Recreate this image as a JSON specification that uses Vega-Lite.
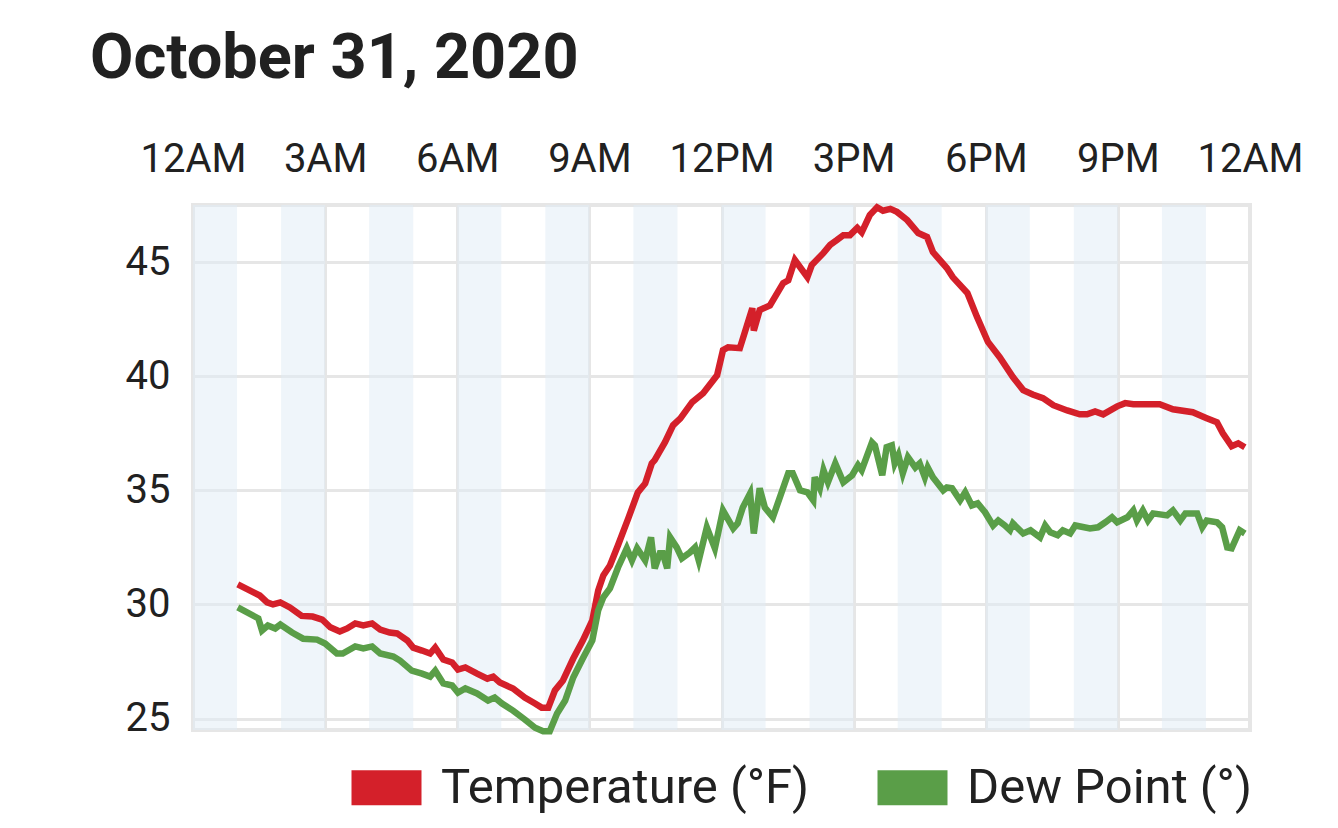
{
  "$schema": "https://vega.github.io/schema/vega-lite/v6.json",
  "width": 1057,
  "height": 525,
  "autosize": {"type": "none"},
  "padding": {"left": 193, "top": 205, "right": 88, "bottom": 98},
  "title": {
    "text": "October 31, 2020",
    "anchor": "start",
    "frame": "group",
    "dx": -103,
    "offset": 48,
    "font": "Roboto",
    "fontSize": 63,
    "fontWeight": "bold",
    "color": "#212121"
  },
  "datasets": {
    "bands": [
      {"start": "2020-10-31 00:00", "end": "2020-10-31 01:00"},
      {"start": "2020-10-31 02:00", "end": "2020-10-31 03:00"},
      {"start": "2020-10-31 04:00", "end": "2020-10-31 05:00"},
      {"start": "2020-10-31 06:00", "end": "2020-10-31 07:00"},
      {"start": "2020-10-31 08:00", "end": "2020-10-31 09:00"},
      {"start": "2020-10-31 10:00", "end": "2020-10-31 11:00"},
      {"start": "2020-10-31 12:00", "end": "2020-10-31 13:00"},
      {"start": "2020-10-31 14:00", "end": "2020-10-31 15:00"},
      {"start": "2020-10-31 16:00", "end": "2020-10-31 17:00"},
      {"start": "2020-10-31 18:00", "end": "2020-10-31 19:00"},
      {"start": "2020-10-31 20:00", "end": "2020-10-31 21:00"},
      {"start": "2020-10-31 22:00", "end": "2020-10-31 23:00"}
    ],
    "temperature": [
      {"time": "2020-10-31 01:01", "value": 30.88},
      {"time": "2020-10-31 01:31", "value": 30.39},
      {"time": "2020-10-31 01:41", "value": 30.09},
      {"time": "2020-10-31 01:49", "value": 30.0},
      {"time": "2020-10-31 01:59", "value": 30.09},
      {"time": "2020-10-31 02:12", "value": 29.87},
      {"time": "2020-10-31 02:28", "value": 29.5},
      {"time": "2020-10-31 02:43", "value": 29.47},
      {"time": "2020-10-31 02:56", "value": 29.34},
      {"time": "2020-10-31 03:07", "value": 29.0},
      {"time": "2020-10-31 03:20", "value": 28.82},
      {"time": "2020-10-31 03:30", "value": 28.95},
      {"time": "2020-10-31 03:41", "value": 29.17},
      {"time": "2020-10-31 03:52", "value": 29.08},
      {"time": "2020-10-31 04:04", "value": 29.17},
      {"time": "2020-10-31 04:15", "value": 28.9},
      {"time": "2020-10-31 04:28", "value": 28.77},
      {"time": "2020-10-31 04:38", "value": 28.73},
      {"time": "2020-10-31 04:52", "value": 28.42},
      {"time": "2020-10-31 05:00", "value": 28.11},
      {"time": "2020-10-31 05:12", "value": 27.98},
      {"time": "2020-10-31 05:23", "value": 27.85},
      {"time": "2020-10-31 05:30", "value": 28.11},
      {"time": "2020-10-31 05:41", "value": 27.59},
      {"time": "2020-10-31 05:53", "value": 27.46},
      {"time": "2020-10-31 06:01", "value": 27.15},
      {"time": "2020-10-31 06:11", "value": 27.24},
      {"time": "2020-10-31 06:27", "value": 26.97},
      {"time": "2020-10-31 06:41", "value": 26.75},
      {"time": "2020-10-31 06:49", "value": 26.84},
      {"time": "2020-10-31 06:58", "value": 26.58},
      {"time": "2020-10-31 07:16", "value": 26.32},
      {"time": "2020-10-31 07:32", "value": 25.92},
      {"time": "2020-10-31 07:46", "value": 25.66},
      {"time": "2020-10-31 07:55", "value": 25.48},
      {"time": "2020-10-31 08:04", "value": 25.48},
      {"time": "2020-10-31 08:13", "value": 26.23},
      {"time": "2020-10-31 08:24", "value": 26.67},
      {"time": "2020-10-31 08:38", "value": 27.63},
      {"time": "2020-10-31 08:51", "value": 28.42},
      {"time": "2020-10-31 09:04", "value": 29.3},
      {"time": "2020-10-31 09:12", "value": 30.61},
      {"time": "2020-10-31 09:19", "value": 31.27},
      {"time": "2020-10-31 09:28", "value": 31.71},
      {"time": "2020-10-31 09:39", "value": 32.59},
      {"time": "2020-10-31 09:53", "value": 33.77},
      {"time": "2020-10-31 10:06", "value": 34.91},
      {"time": "2020-10-31 10:16", "value": 35.3},
      {"time": "2020-10-31 10:25", "value": 36.18},
      {"time": "2020-10-31 10:29", "value": 36.32},
      {"time": "2020-10-31 10:43", "value": 37.11},
      {"time": "2020-10-31 10:54", "value": 37.85},
      {"time": "2020-10-31 11:04", "value": 38.15},
      {"time": "2020-10-31 11:20", "value": 38.86},
      {"time": "2020-10-31 11:35", "value": 39.25},
      {"time": "2020-10-31 11:54", "value": 40.04},
      {"time": "2020-10-31 12:02", "value": 41.14},
      {"time": "2020-10-31 12:09", "value": 41.27},
      {"time": "2020-10-31 12:25", "value": 41.23},
      {"time": "2020-10-31 12:42", "value": 42.98},
      {"time": "2020-10-31 12:44", "value": 42.0},
      {"time": "2020-10-31 12:52", "value": 42.9},
      {"time": "2020-10-31 13:06", "value": 43.1},
      {"time": "2020-10-31 13:24", "value": 44.08},
      {"time": "2020-10-31 13:31", "value": 44.2},
      {"time": "2020-10-31 13:40", "value": 45.09},
      {"time": "2020-10-31 13:57", "value": 44.34},
      {"time": "2020-10-31 14:03", "value": 44.87},
      {"time": "2020-10-31 14:19", "value": 45.4},
      {"time": "2020-10-31 14:28", "value": 45.75},
      {"time": "2020-10-31 14:37", "value": 45.96},
      {"time": "2020-10-31 14:46", "value": 46.18},
      {"time": "2020-10-31 14:55", "value": 46.18},
      {"time": "2020-10-31 15:05", "value": 46.5},
      {"time": "2020-10-31 15:11", "value": 46.3},
      {"time": "2020-10-31 15:22", "value": 47.06},
      {"time": "2020-10-31 15:32", "value": 47.4},
      {"time": "2020-10-31 15:40", "value": 47.25},
      {"time": "2020-10-31 15:50", "value": 47.33},
      {"time": "2020-10-31 15:59", "value": 47.2},
      {"time": "2020-10-31 16:13", "value": 46.84},
      {"time": "2020-10-31 16:28", "value": 46.27},
      {"time": "2020-10-31 16:40", "value": 46.1},
      {"time": "2020-10-31 16:48", "value": 45.44},
      {"time": "2020-10-31 17:07", "value": 44.74},
      {"time": "2020-10-31 17:15", "value": 44.34},
      {"time": "2020-10-31 17:35", "value": 43.64},
      {"time": "2020-10-31 17:48", "value": 42.6},
      {"time": "2020-10-31 18:03", "value": 41.5},
      {"time": "2020-10-31 18:19", "value": 40.83},
      {"time": "2020-10-31 18:37", "value": 39.96},
      {"time": "2020-10-31 18:51", "value": 39.39},
      {"time": "2020-10-31 19:04", "value": 39.2},
      {"time": "2020-10-31 19:18", "value": 39.04},
      {"time": "2020-10-31 19:32", "value": 38.73},
      {"time": "2020-10-31 19:51", "value": 38.5},
      {"time": "2020-10-31 20:08", "value": 38.33},
      {"time": "2020-10-31 20:18", "value": 38.33},
      {"time": "2020-10-31 20:29", "value": 38.46},
      {"time": "2020-10-31 20:40", "value": 38.33},
      {"time": "2020-10-31 20:59", "value": 38.68},
      {"time": "2020-10-31 21:10", "value": 38.82},
      {"time": "2020-10-31 21:21", "value": 38.77},
      {"time": "2020-10-31 21:57", "value": 38.77},
      {"time": "2020-10-31 22:15", "value": 38.55},
      {"time": "2020-10-31 22:42", "value": 38.42},
      {"time": "2020-10-31 23:01", "value": 38.16},
      {"time": "2020-10-31 23:15", "value": 37.98},
      {"time": "2020-10-31 23:23", "value": 37.5},
      {"time": "2020-10-31 23:35", "value": 36.93},
      {"time": "2020-10-31 23:44", "value": 37.06},
      {"time": "2020-10-31 23:53", "value": 36.89}
    ],
    "dewpoint": [
      {"time": "2020-10-31 01:01", "value": 29.87},
      {"time": "2020-10-31 01:29", "value": 29.39},
      {"time": "2020-10-31 01:34", "value": 28.86},
      {"time": "2020-10-31 01:42", "value": 29.08},
      {"time": "2020-10-31 01:52", "value": 28.95},
      {"time": "2020-10-31 01:59", "value": 29.12},
      {"time": "2020-10-31 02:15", "value": 28.77},
      {"time": "2020-10-31 02:30", "value": 28.5},
      {"time": "2020-10-31 02:49", "value": 28.46},
      {"time": "2020-10-31 03:00", "value": 28.29},
      {"time": "2020-10-31 03:16", "value": 27.85},
      {"time": "2020-10-31 03:24", "value": 27.85},
      {"time": "2020-10-31 03:41", "value": 28.16},
      {"time": "2020-10-31 03:52", "value": 28.07},
      {"time": "2020-10-31 04:04", "value": 28.16},
      {"time": "2020-10-31 04:15", "value": 27.85},
      {"time": "2020-10-31 04:33", "value": 27.72},
      {"time": "2020-10-31 04:42", "value": 27.54},
      {"time": "2020-10-31 04:58", "value": 27.1},
      {"time": "2020-10-31 05:12", "value": 26.97},
      {"time": "2020-10-31 05:23", "value": 26.84},
      {"time": "2020-10-31 05:30", "value": 27.1},
      {"time": "2020-10-31 05:41", "value": 26.54},
      {"time": "2020-10-31 05:53", "value": 26.45},
      {"time": "2020-10-31 06:01", "value": 26.14},
      {"time": "2020-10-31 06:11", "value": 26.32},
      {"time": "2020-10-31 06:27", "value": 26.1},
      {"time": "2020-10-31 06:42", "value": 25.79},
      {"time": "2020-10-31 06:51", "value": 25.92},
      {"time": "2020-10-31 07:01", "value": 25.66},
      {"time": "2020-10-31 07:16", "value": 25.35},
      {"time": "2020-10-31 07:32", "value": 24.96},
      {"time": "2020-10-31 07:46", "value": 24.6},
      {"time": "2020-10-31 07:57", "value": 24.45},
      {"time": "2020-10-31 08:06", "value": 24.45},
      {"time": "2020-10-31 08:16", "value": 25.22},
      {"time": "2020-10-31 08:27", "value": 25.79},
      {"time": "2020-10-31 08:38", "value": 26.8},
      {"time": "2020-10-31 08:51", "value": 27.63},
      {"time": "2020-10-31 09:04", "value": 28.42},
      {"time": "2020-10-31 09:12", "value": 29.74},
      {"time": "2020-10-31 09:19", "value": 30.31},
      {"time": "2020-10-31 09:28", "value": 30.7},
      {"time": "2020-10-31 09:39", "value": 31.62},
      {"time": "2020-10-31 09:51", "value": 32.46},
      {"time": "2020-10-31 09:58", "value": 31.93},
      {"time": "2020-10-31 10:05", "value": 32.46},
      {"time": "2020-10-31 10:16", "value": 31.93},
      {"time": "2020-10-31 10:24", "value": 32.94},
      {"time": "2020-10-31 10:29", "value": 31.58},
      {"time": "2020-10-31 10:36", "value": 32.24},
      {"time": "2020-10-31 10:40", "value": 32.24},
      {"time": "2020-10-31 10:46", "value": 31.58},
      {"time": "2020-10-31 10:50", "value": 32.94},
      {"time": "2020-10-31 10:59", "value": 32.5},
      {"time": "2020-10-31 11:06", "value": 32.02},
      {"time": "2020-10-31 11:17", "value": 32.28},
      {"time": "2020-10-31 11:24", "value": 32.5},
      {"time": "2020-10-31 11:29", "value": 31.93},
      {"time": "2020-10-31 11:40", "value": 33.38},
      {"time": "2020-10-31 11:51", "value": 32.46},
      {"time": "2020-10-31 12:02", "value": 34.12},
      {"time": "2020-10-31 12:16", "value": 33.33},
      {"time": "2020-10-31 12:22", "value": 33.55},
      {"time": "2020-10-31 12:29", "value": 34.25},
      {"time": "2020-10-31 12:39", "value": 34.87},
      {"time": "2020-10-31 12:44", "value": 33.11},
      {"time": "2020-10-31 12:52", "value": 35.09},
      {"time": "2020-10-31 12:59", "value": 34.25},
      {"time": "2020-10-31 13:10", "value": 33.82},
      {"time": "2020-10-31 13:31", "value": 35.75},
      {"time": "2020-10-31 13:37", "value": 35.75},
      {"time": "2020-10-31 13:47", "value": 35.0},
      {"time": "2020-10-31 13:57", "value": 34.91},
      {"time": "2020-10-31 14:05", "value": 34.56},
      {"time": "2020-10-31 14:07", "value": 35.57},
      {"time": "2020-10-31 14:14", "value": 35.09},
      {"time": "2020-10-31 14:19", "value": 35.88},
      {"time": "2020-10-31 14:25", "value": 35.35},
      {"time": "2020-10-31 14:35", "value": 36.18},
      {"time": "2020-10-31 14:46", "value": 35.35},
      {"time": "2020-10-31 14:58", "value": 35.66},
      {"time": "2020-10-31 15:06", "value": 36.1},
      {"time": "2020-10-31 15:11", "value": 35.88},
      {"time": "2020-10-31 15:25", "value": 37.1},
      {"time": "2020-10-31 15:29", "value": 36.97},
      {"time": "2020-10-31 15:39", "value": 35.66},
      {"time": "2020-10-31 15:45", "value": 36.89},
      {"time": "2020-10-31 15:52", "value": 36.97},
      {"time": "2020-10-31 15:56", "value": 36.18},
      {"time": "2020-10-31 16:01", "value": 36.54},
      {"time": "2020-10-31 16:07", "value": 35.75},
      {"time": "2020-10-31 16:14", "value": 36.45},
      {"time": "2020-10-31 16:24", "value": 36.0},
      {"time": "2020-10-31 16:30", "value": 36.18},
      {"time": "2020-10-31 16:37", "value": 35.57},
      {"time": "2020-10-31 16:41", "value": 36.0},
      {"time": "2020-10-31 16:48", "value": 35.57},
      {"time": "2020-10-31 17:02", "value": 35.0},
      {"time": "2020-10-31 17:07", "value": 35.13},
      {"time": "2020-10-31 17:14", "value": 35.09},
      {"time": "2020-10-31 17:25", "value": 34.56},
      {"time": "2020-10-31 17:32", "value": 34.91},
      {"time": "2020-10-31 17:41", "value": 34.34},
      {"time": "2020-10-31 17:49", "value": 34.43},
      {"time": "2020-10-31 17:59", "value": 34.04},
      {"time": "2020-10-31 18:10", "value": 33.46},
      {"time": "2020-10-31 18:17", "value": 33.68},
      {"time": "2020-10-31 18:26", "value": 33.46},
      {"time": "2020-10-31 18:33", "value": 33.25},
      {"time": "2020-10-31 18:37", "value": 33.55},
      {"time": "2020-10-31 18:51", "value": 33.11},
      {"time": "2020-10-31 19:01", "value": 33.25},
      {"time": "2020-10-31 19:14", "value": 32.94},
      {"time": "2020-10-31 19:21", "value": 33.46},
      {"time": "2020-10-31 19:28", "value": 33.16},
      {"time": "2020-10-31 19:38", "value": 33.03},
      {"time": "2020-10-31 19:45", "value": 33.25},
      {"time": "2020-10-31 19:55", "value": 33.11},
      {"time": "2020-10-31 20:02", "value": 33.46},
      {"time": "2020-10-31 20:22", "value": 33.33},
      {"time": "2020-10-31 20:33", "value": 33.38},
      {"time": "2020-10-31 20:43", "value": 33.6},
      {"time": "2020-10-31 20:52", "value": 33.82},
      {"time": "2020-10-31 20:59", "value": 33.6},
      {"time": "2020-10-31 21:13", "value": 33.82},
      {"time": "2020-10-31 21:21", "value": 34.12},
      {"time": "2020-10-31 21:26", "value": 33.68},
      {"time": "2020-10-31 21:34", "value": 34.12},
      {"time": "2020-10-31 21:41", "value": 33.68},
      {"time": "2020-10-31 21:48", "value": 33.99},
      {"time": "2020-10-31 22:07", "value": 33.9},
      {"time": "2020-10-31 22:15", "value": 34.12},
      {"time": "2020-10-31 22:25", "value": 33.68},
      {"time": "2020-10-31 22:32", "value": 33.99},
      {"time": "2020-10-31 22:48", "value": 33.99},
      {"time": "2020-10-31 22:55", "value": 33.38},
      {"time": "2020-10-31 23:01", "value": 33.68},
      {"time": "2020-10-31 23:15", "value": 33.6},
      {"time": "2020-10-31 23:22", "value": 33.38},
      {"time": "2020-10-31 23:29", "value": 32.5},
      {"time": "2020-10-31 23:35", "value": 32.46},
      {"time": "2020-10-31 23:46", "value": 33.25},
      {"time": "2020-10-31 23:53", "value": 33.11}
    ]
  },
  "layer": [
    {
      "data": {"name": "bands"},
      "mark": {"type": "rect", "fill": "#dfebf5", "opacity": 0.5},
      "encoding": {
        "x": {
          "field": "start",
          "type": "temporal",
          "title": null,
          "scale": {
            "domain": [
              {"year": 2020, "month": 10, "date": 31, "hours": 0},
              {"year": 2020, "month": 11, "date": 1, "hours": 0}
            ]
          },
          "axis": {
            "orient": "top",
            "format": "%-I%p",
            "values": [
              {"year": 2020, "month": 10, "date": 31, "hours": 0},
              {"year": 2020, "month": 10, "date": 31, "hours": 3},
              {"year": 2020, "month": 10, "date": 31, "hours": 6},
              {"year": 2020, "month": 10, "date": 31, "hours": 9},
              {"year": 2020, "month": 10, "date": 31, "hours": 12},
              {"year": 2020, "month": 10, "date": 31, "hours": 15},
              {"year": 2020, "month": 10, "date": 31, "hours": 18},
              {"year": 2020, "month": 10, "date": 31, "hours": 21},
              {"year": 2020, "month": 11, "date": 1, "hours": 0}
            ],
            "labelPadding": 26,
            "labelFlush": false,
            "labelOverlap": false
          }
        },
        "x2": {"field": "end"}
      }
    },
    {
      "data": {"name": "temperature"},
      "mark": {"type": "line", "strokeWidth": 6.5},
      "encoding": {
        "x": {"field": "time", "type": "temporal"},
        "y": {
          "field": "value",
          "type": "quantitative",
          "title": null,
          "scale": {"domain": [24.5, 47.5], "nice": false, "zero": false},
          "axis": {"values": [25, 30, 35, 40, 45], "labelPadding": 23}
        },
        "color": {
          "datum": "Temperature (°F)",
          "scale": {
            "domain": ["Temperature (°F)", "Dew Point (°)"],
            "range": ["#d4202a", "#5a9e48"]
          },
          "legend": {"title": null}
        }
      }
    },
    {
      "data": {"name": "dewpoint"},
      "mark": {"type": "line", "strokeWidth": 6.5},
      "encoding": {
        "x": {"field": "time", "type": "temporal"},
        "y": {"field": "value", "type": "quantitative"},
        "color": {"datum": "Dew Point (°)"}
      }
    }
  ],
  "config": {
    "view": {"stroke": "#e6e6e6", "strokeWidth": 4},
    "axis": {
      "domain": false,
      "ticks": false,
      "gridColor": "#e6e6e6",
      "gridWidth": 3,
      "labelFont": "Roboto",
      "labelFontSize": 40,
      "labelColor": "#212121"
    },
    "legend": {
      "orient": "none",
      "legendX": 141,
      "legendY": 530,
      "direction": "horizontal",
      "symbolType": "stroke",
      "symbolSize": 4900,
      "symbolStrokeWidth": 35,
      "labelFont": "Roboto",
      "labelFontSize": 49,
      "labelLimit": 0,
      "labelColor": "#212121",
      "labelOffset": 2,
      "columnPadding": -3,
      "padding": 0
    }
  }
}
